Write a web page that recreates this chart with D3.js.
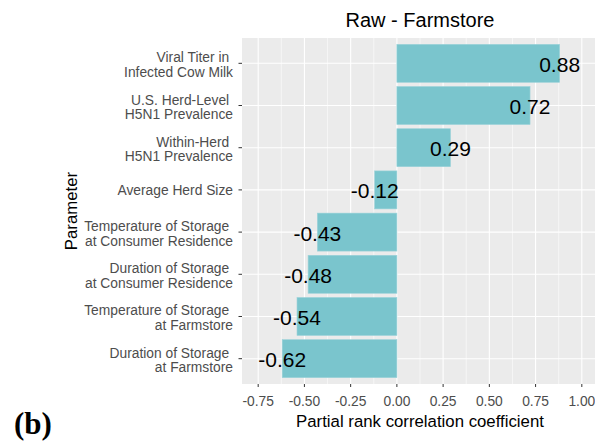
<!DOCTYPE html>
<html>
<head>
<meta charset="utf-8">
<title>Raw - Farmstore</title>
<script src="https://d3js.org/d3.v7.min.js"></script>
<style>
  body { margin: 0; background: #fff; }
  text { font-family: "Liberation Sans", Arial, sans-serif; }
</style>
</head>
<body>
<script>
// data, top bar first
const parameters = [
  ["Viral Titer in ", "Infected Cow Milk"],
  ["U.S. Herd-Level ", "H5N1 Prevalence"],
  ["Within-Herd ", "H5N1 Prevalence"],
  ["Average Herd Size"],
  ["Temperature of Storage ", "at Consumer Residence"],
  ["Duration of Storage ", "at Consumer Residence"],
  ["Temperature of Storage ", "at Farmstore"],
  ["Duration of Storage ", "at Farmstore"]
]
const prcc = [0.88, 0.72, 0.29, -0.12, -0.43, -0.48, -0.54, -0.62]
const xTicks = [-0.75, -0.5, -0.25, 0, 0.25, 0.5, 0.75, 1.0]
const xMinor = [-0.625, -0.375, -0.125, 0.125, 0.375, 0.625, 0.875]

const w = 595, h = 444
const panel = {left: 242, right: 598, top: 38, bottom: 384}

const svg = d3.select("body").append("svg")
  .attr("width", w).attr("height", h)
  .style("background-color", "white")

const x = d3.scaleLinear()
  .domain([-0.8375, 1.0875])
  .range([panel.left, panel.right])

const ids = parameters.map((d, i) => i)
const y = d3.scalePoint()
  .domain(ids)
  .range([panel.top, panel.bottom])
  .padding(0.6)
const barH = y.step() * 0.9

// panel background
svg.append("rect")
  .attr("x", panel.left).attr("y", panel.top)
  .attr("width", panel.right - panel.left)
  .attr("height", panel.bottom - panel.top)
  .attr("fill", "#EBEBEB")

// grid
svg.selectAll(".minor").data(xMinor).enter().append("line")
  .attr("x1", d => x(d)).attr("x2", d => x(d))
  .attr("y1", panel.top).attr("y2", panel.bottom)
  .attr("stroke", "white").attr("stroke-width", 0.55)
svg.selectAll(".major").data(xTicks).enter().append("line")
  .attr("x1", d => x(d)).attr("x2", d => x(d))
  .attr("y1", panel.top).attr("y2", panel.bottom)
  .attr("stroke", "white").attr("stroke-width", 1.1)
svg.selectAll(".hgrid").data(ids).enter().append("line")
  .attr("x1", panel.left).attr("x2", panel.right)
  .attr("y1", d => y(d)).attr("y2", d => y(d))
  .attr("stroke", "white").attr("stroke-width", 1.1)

// bars
svg.selectAll(".bar").data(prcc).enter().append("rect")
  .attr("x", d => x(Math.min(0, d)))
  .attr("y", (d, i) => y(i) - barH / 2)
  .attr("width", d => Math.abs(x(d) - x(0)))
  .attr("height", barH)
  .attr("fill", "#7AC5CD")
  .attr("stroke", "#9CD3D9").attr("stroke-width", 0.6)

// value labels
svg.selectAll(".val").data(prcc).enter().append("text")
  .attr("x", d => x(d))
  .attr("y", (d, i) => y(i) + 8.5)
  .attr("text-anchor", "middle")
  .attr("font-size", "21px")
  .attr("fill", "black")
  .text(d => d.toFixed(2))

// x axis ticks + labels
svg.selectAll(".xt").data(xTicks).enter().append("line")
  .attr("x1", d => x(d)).attr("x2", d => x(d))
  .attr("y1", panel.bottom).attr("y2", panel.bottom + 3)
  .attr("stroke", "#333333").attr("stroke-width", 1)
svg.selectAll(".xl").data(xTicks).enter().append("text")
  .attr("x", d => x(d))
  .attr("y", 406)
  .attr("text-anchor", "middle")
  .attr("font-size", "13.8px")
  .attr("fill", "#4D4D4D")
  .text(d => d3.format(".2f")(d).replace("−", "-"))

// y axis ticks + labels
svg.selectAll(".yt").data(ids).enter().append("line")
  .attr("x1", panel.left - 3.5).attr("x2", panel.left)
  .attr("y1", d => y(d)).attr("y2", d => y(d))
  .attr("stroke", "#333333").attr("stroke-width", 1)

const yl = svg.selectAll(".yl").data(parameters).enter().append("text")
  .attr("text-anchor", "end")
  .attr("font-size", "13.8px")
  .attr("fill", "#4D4D4D")
  .style("white-space", "pre")
  .attr("transform", (d, i) => `translate(233,${y(i)})`)
yl.selectAll("tspan")
  .data(d => d.map((s, j) => ({s, j, n: d.length})))
  .enter().append("tspan")
  .attr("x", 0)
  .attr("y", t => t.n === 1 ? 5 : (t.j === 0 ? -1 : 13.5))
  .text(t => t.s)

// titles
svg.append("text")
  .attr("x", (panel.left + panel.right) / 2).attr("y", 27)
  .attr("text-anchor", "middle")
  .attr("font-size", "20px")
  .attr("fill", "black")
  .text("Raw - Farmstore")

svg.append("text")
  .attr("x", (panel.left + panel.right) / 2).attr("y", 427)
  .attr("text-anchor", "middle")
  .attr("font-size", "16.8px")
  .attr("fill", "black")
  .text("Partial rank correlation coefficient")

svg.append("text")
  .attr("transform", `translate(77,${(panel.top + panel.bottom) / 2}) rotate(-90)`)
  .attr("text-anchor", "middle")
  .attr("font-size", "16.8px")
  .attr("fill", "black")
  .text("Parameter")

// panel tag
svg.append("text")
  .attr("x", 14).attr("y", 434)
  .style("font-family", "'Liberation Serif', 'Times New Roman', serif")
  .attr("font-weight", "bold")
  .attr("font-size", "31px")
  .attr("fill", "black")
  .text("(b)")
</script>
</body>
</html>
